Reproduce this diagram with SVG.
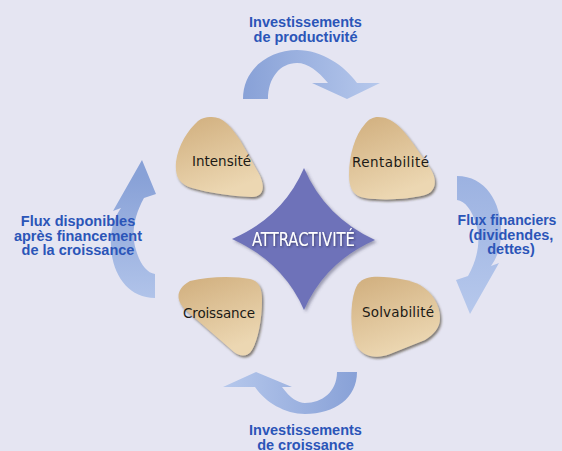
<svg xmlns="http://www.w3.org/2000/svg" width="562" height="451" viewBox="0 0 562 451">
<defs>
<linearGradient id="gTop" gradientUnits="userSpaceOnUse" x1="243" y1="0" x2="380" y2="0"><stop offset="0" stop-color="#88a1d7"/><stop offset="1" stop-color="#b6c8ec"/></linearGradient>
<linearGradient id="gBot" gradientUnits="userSpaceOnUse" x1="357" y1="0" x2="223" y2="0"><stop offset="0" stop-color="#88a1d7"/><stop offset="1" stop-color="#b6c8ec"/></linearGradient>
<linearGradient id="gRight" gradientUnits="userSpaceOnUse" x1="0" y1="176" x2="0" y2="314"><stop offset="0" stop-color="#9cb2e1"/><stop offset="1" stop-color="#b6c8ec"/></linearGradient>
<linearGradient id="gLeft" gradientUnits="userSpaceOnUse" x1="0" y1="298" x2="0" y2="160"><stop offset="0" stop-color="#88a1d7"/><stop offset="1" stop-color="#b6c8ec"/></linearGradient>
<linearGradient id="gBlob" x1="0" y1="0" x2="0.4" y2="1"><stop offset="0" stop-color="#d0ae7d"/><stop offset="1" stop-color="#ecd7b2"/></linearGradient>
<filter id="sh" x="-20%" y="-20%" width="140%" height="140%"><feDropShadow dx="1.5" dy="2" stdDeviation="1.2" flood-color="#3a3020" flood-opacity="0.6"/></filter>
<filter id="shStar" x="-20%" y="-20%" width="140%" height="140%"><feDropShadow dx="2" dy="2" stdDeviation="1.5" flood-color="#404060" flood-opacity="0.45"/></filter>
<filter id="shText" x="-10%" y="-30%" width="120%" height="160%"><feDropShadow dx="1" dy="1" stdDeviation="0.8" flood-color="#202040" flood-opacity="0.6"/></filter>
<style>
.lbl{font-family:"Liberation Sans",Arial,sans-serif;font-weight:bold;font-size:14.5px;fill:#2b55b8;text-anchor:middle}
.blob{fill:url(#gBlob);filter:url(#sh)}
.bt{font-family:"DejaVu Sans","Open Sans",sans-serif;font-size:13.5px;fill:#1c1a16;text-anchor:middle}
</style>
</defs>
<rect width="562" height="451" fill="#e5e5f2"/>
<g id="connectors">
<path id="arrow-top" fill="url(#gTop)" d="M243,99 C243,68 270,50 297,50 C322,50 345,66 357,83 L380,83 L347,99 L312,83 L328,83 C318,71 308,63 297,63 C280,63 268,78 268,99 Z"/>
<path id="arrow-right" fill="url(#gRight)" d="M457,176 C487,176 503,205 501,237 C500,250 496,259 491,266 L499,263 L470,314 L456,280 L468,276 C478,258 481,240 476,224 C472,210 465,201 457,200 Z"/>
<path id="arrow-bottom" fill="url(#gBot)" d="M357,372 C357,398 335,414 305,414 C285,414 265,402 255,387 L223,387 L256,372 L292,387 L282,387 C290,398 298,403 305,403 C322,403 337,392 337,372 Z"/>
<path id="arrow-left" fill="url(#gLeft)" transform="rotate(180 306 237)" d="M457,176 C487,176 503,205 501,237 C500,250 496,259 491,266 L499,263 L470,314 L456,280 L468,276 C478,258 481,240 476,224 C472,210 465,201 457,200 Z"/>
</g>
<g id="label-top"><text class="lbl" x="305.5" y="26.5">Investissements</text><text class="lbl" x="305.5" y="41.5">de productivité</text></g>
<g id="label-bottom"><text class="lbl" x="305.5" y="435">Investissements</text><text class="lbl" x="305.5" y="449.5">de croissance</text></g>
<g id="label-left"><text class="lbl" x="78" y="226">Flux disponibles</text><text class="lbl" x="78" y="240.7">après financement</text><text class="lbl" x="78" y="255.4">de la croissance</text></g>
<g id="label-right"><text class="lbl" x="507" y="225" style="font-size:14px">Flux financiers</text><text class="lbl" x="511" y="239.7">(dividendes,</text><text class="lbl" x="511" y="254.4">dettes)</text></g>
<g id="star">
<path fill="#6e72b9" filter="url(#shStar)" d="M304,168 Q325,217 375,240 Q325,262 304,310 Q283,262 232,239 Q283,217 304,168 Z"/>
<text x="303.5" y="245.5" fill="#ffffff" filter="url(#shText)" font-family="'Liberation Sans Narrow','DejaVu Sans Condensed','Liberation Sans',sans-serif" font-size="19" text-anchor="middle" textLength="103" lengthAdjust="spacingAndGlyphs">ATTRACTIVITÉ</text>
</g>
<g id="node-intensite">
<path class="blob" d="M210,117 C222,116 230,125 240,140 L258,172 C266,186 264,197 252,197 C230,196 210,193 192,188 C178,184 175,175 176,162 C178,145 188,130 198,121 C202,118 206,117 210,117 Z"/>
<text class="bt" x="221.5" y="166" textLength="59" lengthAdjust="spacing">Intensité</text>
</g>
<g id="node-rentabilite">
<path class="blob" d="M378,117 C392,117 402,128 412,142 L430,168 C438,180 436,192 425,195 C410,199 385,201 365,198 C353,196 349,188 349,175 C349,155 355,135 365,124 C369,119 373,117 378,117 Z"/>
<text class="bt" x="390.5" y="167" textLength="77" lengthAdjust="spacing">Rentabilité</text>
</g>
<g id="node-croissance">
<path class="blob" d="M190,281 C210,276 235,276 250,279 C260,281 262,290 262,300 C262,320 258,340 252,350 C248,357 240,357 234,352 L188,312 C176,302 174,290 190,281 Z"/>
<text class="bt" x="219" y="318" textLength="72" lengthAdjust="spacing">Croissance</text>
</g>
<g id="node-solvabilite">
<path class="blob" d="M372,277 C390,276 410,280 420,285 C432,292 440,305 440,318 C440,328 434,334 425,340 L390,354 C375,360 362,356 356,345 C350,330 350,305 355,290 C358,281 364,278 372,277 Z"/>
<text class="bt" x="398" y="317" textLength="72" lengthAdjust="spacing">Solvabilité</text>
</g>
</svg>
